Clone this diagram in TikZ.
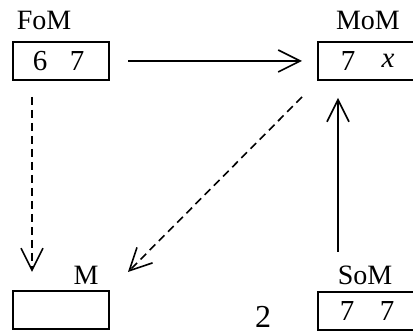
\documentclass[tikz,border=0pt]{standalone}
\usepackage{fontspec}
\setmainfont{Liberation Serif}
\usetikzlibrary{arrows.meta}
\begin{document}
\begin{tikzpicture}[x=0.5pt,y=-0.5pt,
  cell/.style={draw,line width=1pt,minimum width=48pt,minimum height=19pt,inner sep=0pt},
  lbl/.style={font=\fontsize{14}{16}\selectfont,inner sep=0pt},
  val/.style={font=\fontsize{14.5}{16}\selectfont,inner sep=0pt},
  link/.style={line width=0.8pt,-{Straight Barb[length=11pt,width=11pt,line width=0.8pt]}},
  dlink/.style={link,dash pattern=on 4pt off 2.5pt}]
\useasboundingbox (0,0) rectangle (413,335);
% boxes
\node[cell] (fom) at (61,61.5) {};
\node[cell] (mom) at (366,61) {};
\node[cell] (m)   at (61,310) {};
\node[cell] (som) at (366,311) {};
% labels above boxes
\node[lbl] (fomL) at (44,20) {FoM};
\node[lbl] (momL) at (368,20) {MoM};
\node[lbl] (mL)   at (86,275) {M};
\node[lbl] (somL) at (365,275) {SoM};
% values
\node[val] (f1) at (40,61) {6};
\node[val] (f2) at (77,61) {7};
\node[val] (m1) at (348,61) {7};
\node[val] (m2) at (388,61) {\textit{x}};
\node[val] (s1) at (347,311) {7};
\node[val] (s2) at (387,311) {7};
\node[font=\fontsize{16}{18}\selectfont,inner sep=0pt] (two) at (263,317) {2};
% connector end points
\coordinate (a1) at (128,61);
\coordinate (a2) at (302,61);
\coordinate (b1) at (32,97);
\coordinate (b2) at (32,272);
\coordinate (c1) at (302,97);
\coordinate (c2) at (128,272);
\coordinate (d1) at (338,252);
\coordinate (d2) at (338,98);
\draw[link] (a1) -- (a2);
\draw[dlink] (b1) -- (b2);
\draw[dlink] (c1) -- (c2);
\draw[link] (d1) -- (d2);
\end{tikzpicture}
\end{document}
